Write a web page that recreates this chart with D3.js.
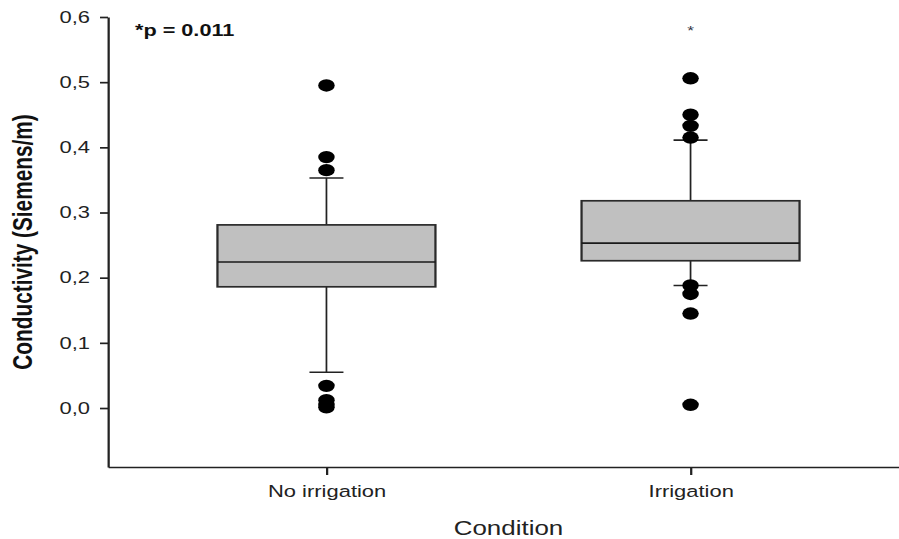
<!DOCTYPE html>
<html>
<head>
<meta charset="utf-8">
<script src="https://cdn.jsdelivr.net/npm/d3@7"></script>
<style>
    body { margin: 0; background: #fff; }
    svg { display: block; }
    .axis text { font-family: "Liberation Sans", Arial, sans-serif; font-size: 16.5px; fill: #222; }
    .axis path, .axis line { stroke: #222; stroke-width: 1.7; }
</style>
</head>
<body>
<div id="chart"></div>
<script>
// data
const categories = ["No irrigation", "Irrigation"];
const q1 = [0.186, 0.226];
const medians = [0.224, 0.253];
const q3 = [0.281, 0.318];
const whiskerLow = [0.055, 0.188];
const whiskerHigh = [0.353, 0.411];
const outliersNoIrrigation = [0.495, 0.385, 0.365, 0.034, 0.012, 0.005, 0.001];
const outliersIrrigation = [0.506, 0.450, 0.433, 0.415, 0.188, 0.175, 0.145, 0.005];
const yTicks = [0, 0.1, 0.2, 0.3, 0.4, 0.5, 0.6];

const outliers = [outliersNoIrrigation, outliersIrrigation];
const boxes = categories.map((c, i) => ({
    category: c,
    q1: q1[i],
    median: medians[i],
    q3: q3[i],
    low: whiskerLow[i],
    high: whiskerHigh[i],
    outliers: outliers[i]
}));

class Boxplot {
    constructor(_config, _data) {
        this.config = {
            parentElement: _config.parentElement,
            containerWidth: 899,
            containerHeight: 539,
            stretch: 1.33   // the original picture is widened horizontally
        };
        this.data = _data;
        this.initVis();
    }

    initVis() {
        let vis = this;
        const sx = vis.config.stretch;
        vis.vbWidth = vis.config.containerWidth / sx;

        vis.svg = d3.select(vis.config.parentElement)
            .append("svg")
            .attr("width", vis.config.containerWidth)
            .attr("height", vis.config.containerHeight)
            .attr("viewBox", `0 0 ${vis.vbWidth} ${vis.config.containerHeight}`)
            .attr("preserveAspectRatio", "none");

        vis.x0 = 108 / sx;
        vis.xScale = d3.scalePoint()
            .domain(categories)
            .range([vis.x0, 909 / sx])
            .padding(0.6);

        vis.yScale = d3.scaleLinear()
            .domain([-0.0905, 0.6])
            .range([467, 17]);

        vis.boxWidth = 218 / sx;
        vis.capWidth = 34 / sx;

        vis.updateVis();
    }

    updateVis() {
        let vis = this;
        const fmt = d => d3.format(".1f")(d).replace(".", ",");

        const yAxis = d3.axisLeft(vis.yScale)
            .tickValues(yTicks)
            .tickFormat(fmt)
            .tickSize(6)
            .tickSizeOuter(0)
            .tickPadding(7.5);

        const xAxis = d3.axisBottom(vis.xScale)
            .tickSize(8)
            .tickSizeOuter(0)
            .tickPadding(10.3);

        vis.svg.append("g")
            .attr("class", "axis y-axis")
            .attr("transform", `translate(${vis.x0},0)`)
            .call(yAxis);

        vis.svg.append("g")
            .attr("class", "axis x-axis")
            .attr("transform", `translate(0,467)`)
            .call(xAxis);

        const g = vis.svg.selectAll(".box")
            .data(vis.data)
            .join("g")
            .attr("class", "box")
            .attr("transform", d => `translate(${vis.xScale(d.category)},0)`);

        // whiskers
        g.append("line")
            .attr("x1", 0).attr("x2", 0)
            .attr("y1", d => vis.yScale(d.high))
            .attr("y2", d => vis.yScale(d.low))
            .attr("stroke", "#222")
            .attr("stroke-width", 1.3);

        g.selectAll(".cap")
            .data(d => [d.low, d.high])
            .join("line")
            .attr("class", "cap")
            .attr("x1", -vis.capWidth / 2).attr("x2", vis.capWidth / 2)
            .attr("y1", d => vis.yScale(d))
            .attr("y2", d => vis.yScale(d))
            .attr("stroke", "#222")
            .attr("stroke-width", 1.6);

        g.append("rect")
            .attr("x", -vis.boxWidth / 2)
            .attr("width", vis.boxWidth)
            .attr("y", d => vis.yScale(d.q3))
            .attr("height", d => vis.yScale(d.q1) - vis.yScale(d.q3))
            .attr("fill", "#c0c0c0")
            .attr("stroke", "#2a2a2a")
            .attr("stroke-width", 1.7);

        g.append("line")
            .attr("x1", -vis.boxWidth / 2).attr("x2", vis.boxWidth / 2)
            .attr("y1", d => vis.yScale(d.median))
            .attr("y2", d => vis.yScale(d.median))
            .attr("stroke", "#1a1a1a")
            .attr("stroke-width", 1.6);

        g.selectAll(".outlier")
            .data(d => d.outliers)
            .join("circle")
            .attr("class", "outlier")
            .attr("cx", 0)
            .attr("cy", d => vis.yScale(d))
            .attr("r", 6.2)
            .attr("fill", "#000");

        // significance marker above the irrigation box
        vis.svg.append("text")
            .attr("x", vis.xScale("Irrigation"))
            .attr("y", 35)
            .attr("text-anchor", "middle")
            .attr("font-family", "Liberation Sans, Arial, sans-serif")
            .attr("font-size", 13)
            .attr("fill", "#334")
            .text("*");

        vis.svg.append("text")
            .attr("x", 135 / vis.config.stretch)
            .attr("y", 36)
            .attr("font-family", "Liberation Sans, Arial, sans-serif")
            .attr("font-weight", "bold")
            .attr("font-size", 16.3)
            .attr("fill", "#111")
            .text("*p = 0.011");

        vis.svg.append("text")
            .attr("transform", `translate(${32 / vis.config.stretch},${(17 + 467) / 2}) rotate(-90)`)
            .attr("text-anchor", "middle")
            .attr("font-family", "Liberation Sans, Arial, sans-serif")
            .attr("font-weight", "bold")
            .attr("font-size", 20.8)
            .attr("fill", "#111")
            .text("Conductivity (Siemens/m)");

        vis.svg.append("text")
            .attr("x", (vis.x0 + 909 / vis.config.stretch) / 2)
            .attr("y", 535)
            .attr("text-anchor", "middle")
            .attr("font-family", "Liberation Sans, Arial, sans-serif")
            .attr("font-size", 19.5)
            .attr("fill", "#222")
            .text("Condition");
    }
}

new Boxplot({ parentElement: "#chart" }, boxes);
</script>
</body>
</html>
